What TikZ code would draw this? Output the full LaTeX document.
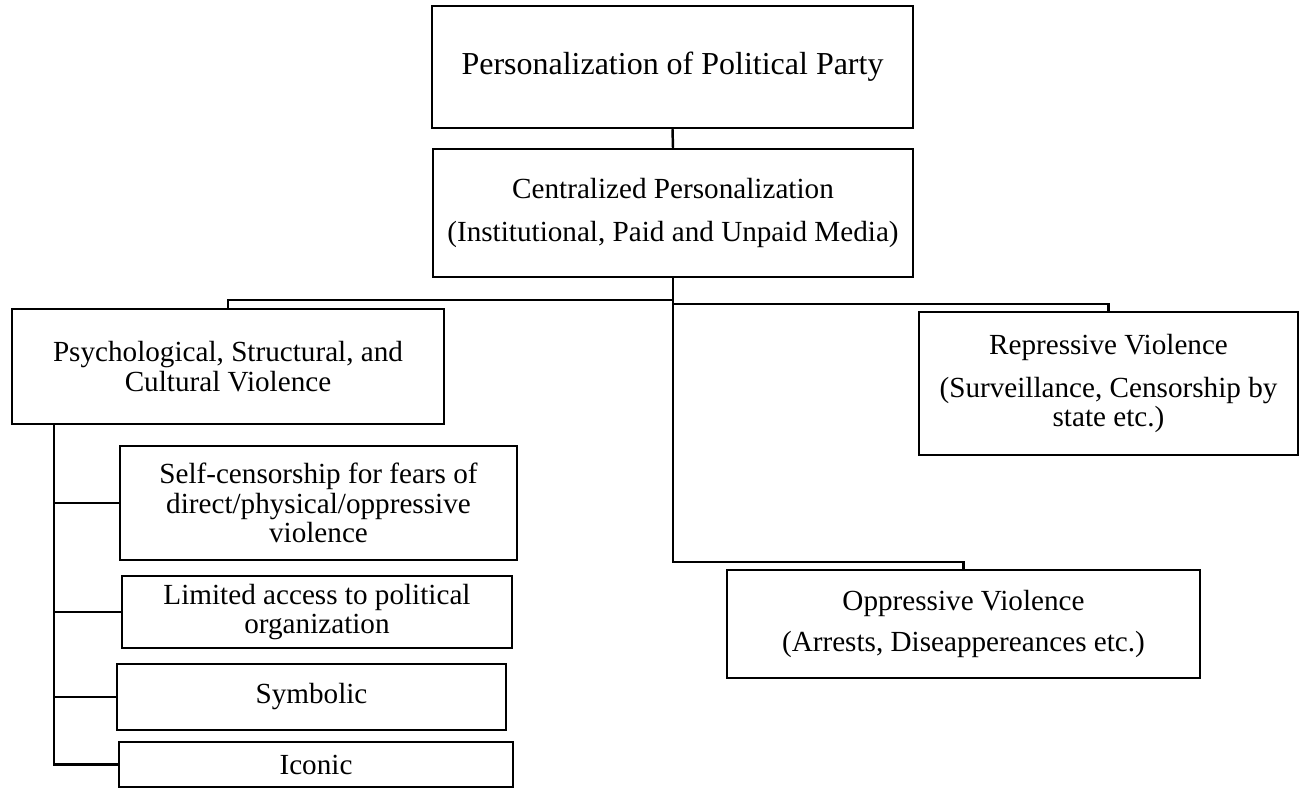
\documentclass[tikz,border=0pt]{standalone}
\usepackage{fontspec}
\setmainfont{Liberation Serif}
\usepackage{xcolor}
\usepackage{tikz}
\usetikzlibrary{
	calc,
	positioning
}
\definecolor{LineBlack}{RGB}{0,0,0}

\begin{document}
\begin{tikzpicture}[
		box/.style={draw=LineBlack, line width=1.4pt, align=center, inner sep=0pt, font=\fontsize{16.6}{16.8}\selectfont},
		link/.style={draw=LineBlack, line width=1.4pt}
	]
			\useasboundingbox (0,0) rectangle (26,-15.76);
			\node[box, minimum width=9.62cm, minimum height=2.44cm, font=\fontsize{18.2}{20}\selectfont] (party) at (13.45,-1.34) {Personalization of Political Party};
			\node[box, minimum width=9.60cm, minimum height=2.56cm] (central) at (13.46,-4.26) {Centralized Personalization\\[7.7pt](Institutional, Paid and Unpaid Media)};
			\node[box, minimum width=8.64cm, minimum height=2.30cm] (psych) at (4.56,-7.33) {Psychological, Structural, and\\Cultural Violence};
			\node[box, minimum width=7.58cm, minimum height=2.86cm] (repress) at (22.17,-7.67) {Repressive Violence\\[7.7pt](Surveillance, Censorship by\\state etc.)};
			\node[box, minimum width=9.46cm, minimum height=2.16cm] (oppress) at (19.27,-12.48) {Oppressive Violence\\[7.0pt](Arrests, Diseappereances etc.)};
			\node[box, minimum width=7.94cm, minimum height=2.28cm] (selfcens) at (6.37,-10.06) {Self-censorship for fears of\\direct/physical/oppressive\\violence};
			\node[box, minimum width=7.80cm, minimum height=1.44cm] (limited) at (6.34,-12.24) {Limited access to political\\organization};
			\node[box, minimum width=7.78cm, minimum height=1.32cm] (symbolic) at (6.23,-13.94) {Symbolic};
			\node[box, minimum width=7.88cm, minimum height=0.90cm] (iconic) at (6.32,-15.29) {Iconic};
			\draw[link] (party.south) -- (central.north);
			\draw[link] (central.south) -- ++(0,-0.44) -| (psych.north);
			\draw[link] ([yshift=-0.52cm]central.south) -| (repress.north);
			\draw[link] (central.south) -- ++(0,-5.68) -| (oppress.north);
			\coordinate (spine) at ([xshift=0.86cm]psych.south west);
			\draw[link] (spine) |- (iconic.west);
			\foreach \n in {selfcens,limited,symbolic}
				\draw[link] (spine |- \n.west) -- (\n.west);
		\end{tikzpicture}
\end{document}
